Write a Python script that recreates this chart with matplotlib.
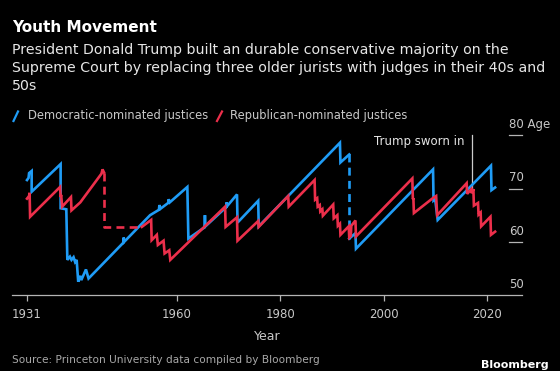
import numpy as np
import matplotlib

matplotlib.use("Agg")
import matplotlib.pyplot as plt
from matplotlib.lines import Line2D
from matplotlib.transforms import blended_transform_factory, offset_copy

BLUE, RED = "#1f9cf6", "#ec2f4b"
BG = "#000000"
GREY = "#b4b4b4"

# average age, Democratic-nominated justices (NaN breaks the dashed gap)
dem_year = [1931.0, 1931.3, 1931.4, 1931.9, 1931.9, 1937.5, 1937.5, 1938.6, 1938.8,
            1939.3, 1939.6, 1940.0, 1940.3, 1940.6, 1940.9, 1941.3, 1941.5, 1942.4, 1942.9,
            1949.6, 1949.7, 1949.8, 1954.8, 1956.5, 1956.6, 1956.8, 1958.3, 1958.4, 1958.6,
            1962.0, 1962.2, 1965.3, 1965.4, 1965.5, 1969.5, 1969.6, 1969.7, 1971.6, 1971.7,
            1975.7, 1975.8, 1991.5, 1991.6, 1993.3, np.nan,
            1993.3, 1994.5, 1994.6, 2009.5, 2009.6, 2009.9, 2010.4, 2020.7, 2020.8, 2021.5]
dem_age = [71.6, 72.0, 72.9, 73.3, 69.4, 74.6, 66.3, 66.1, 56.6,
           57.2, 56.6, 57.1, 56.2, 56.6, 52.5, 53.6, 52.8, 54.8, 53.1,
           59.8, 60.8, 60.0, 65.0, 66.0, 66.9, 66.2, 67.3, 68.0, 67.4,
           70.3, 60.6, 62.7, 65.0, 62.9, 66.5, 67.4, 66.7, 68.9, 63.6,
           67.7, 62.9, 78.6, 74.9, 76.4, np.nan,
           60.6, 61.6, 58.7, 73.6, 67.8, 68.1, 64.1, 74.3, 69.7, 70.2]
dem_gap_year = [1993.3, 1993.3]
dem_gap_age = [76.4, 60.6]

# average age, Republican-nominated justices
rep_year = [1931.0, 1931.4, 1931.5, 1931.6, 1937.4, 1937.5, 1937.6, 1937.8, 1939.5, 1939.6,
            1941.3, 1945.4, 1945.6, 1945.9, np.nan,
            1953.2, 1955.0, 1955.1, 1956.1, 1956.3, 1957.4, 1957.6, 1958.5, 1958.7, 1969.3,
            1969.4, 1971.6, 1971.7, 1975.7, 1975.8, 1981.5, 1981.6, 1986.6, 1986.7, 1987.1,
            1987.2, 1987.6, 1987.7, 1988.1, 1988.2, 1990.2, 1990.3, 1991.0, 1991.1, 1991.5,
            1991.6, 1993.2, 1993.3, 1993.6, 1993.7, 1994.5, 1994.6, 2005.5, 2005.6, 2005.7,
            2005.8, 2009.6, 2010.1, 2010.3, 2016.0, 2016.1, 2016.9, 2017.0, 2017.3, 2017.4,
            2018.2, 2018.3, 2018.7, 2018.8, 2020.6, 2020.7, 2021.5]
rep_age = [68.1, 68.6, 69.2, 64.7, 70.3, 68.4, 68.8, 66.6, 68.4, 65.9,
           67.4, 72.8, 73.6, 73.0, np.nan,
           62.8, 64.1, 60.3, 61.3, 59.4, 60.2, 57.8, 58.4, 56.6, 66.6,
           62.8, 64.6, 60.2, 63.9, 62.8, 68.6, 66.6, 71.6, 67.9, 68.2,
           66.6, 66.9, 65.7, 66.1, 64.9, 67.0, 64.4, 65.0, 63.0, 63.4,
           61.3, 62.9, 60.8, 61.1, 63.0, 64.0, 61.0, 71.9, 68.0, 68.2,
           65.4, 68.3, 68.6, 65.0, 71.0, 69.0, 69.9, 69.1, 69.9, 66.8,
           67.3, 65.1, 65.5, 62.9, 64.7, 61.3, 61.9]
rep_gap_year = [1945.9, 1945.9, 1953.2]
rep_gap_age = [73.0, 62.8, 62.8]

xticks = [1931, 1960, 1980, 2000, 2020]
yticks = [50, 60, 70, 80]
trump_year = 2017.05

W, H = 560, 371
fig = plt.figure(figsize=(W / 100, H / 100), dpi=100, facecolor=BG)
ax = fig.add_axes([12 / W, 1 - 295 / H, (522 - 12) / W, (295 - 130) / H])
ax.set_facecolor(BG)

ax.plot(dem_year, dem_age, color=BLUE, lw=1.9, solid_joinstyle="miter", zorder=2)
ax.plot(dem_gap_year, dem_gap_age, color=BLUE, lw=1.9, ls=(0, (3, 2)), zorder=2)
ax.plot(rep_year, rep_age, color=RED, lw=1.9, solid_joinstyle="miter", zorder=3)
ax.plot(rep_gap_year, rep_gap_age, color=RED, lw=1.9, ls=(0, (3, 2)), zorder=3)

ax.set_xlim(1928.1, 2026.7)
ax.set_ylim(50, 81)
for s in ["top", "right", "left"]:
    ax.spines[s].set_visible(False)
ax.spines["bottom"].set_color(GREY)
ax.spines["bottom"].set_linewidth(0.9)
ax.set_xticks(xticks)
ax.set_xticklabels([str(t) for t in xticks])
ax.tick_params(axis="x", colors=GREY, length=4, width=0.9, labelsize=8.5, pad=5,
               labelcolor="#c8c8c8")
ax.set_yticks([])
ax.set_xlabel("Year", color="#c8c8c8", fontsize=9, labelpad=7)

# right-hand y ticks: short dashes with labels sitting above
tr = blended_transform_factory(ax.transAxes, ax.transData)
for v in yticks:
    if v != 50:
        ax.plot([0.975, 1.0], [v, v], color=GREY, lw=0.9, transform=tr, clip_on=False)
    lab = "80 Age" if v == 80 else str(v)
    ax.text(0.975, v, lab, transform=offset_copy(tr, fig=fig, x=0, y=3, units="points"),
            color="#c8c8c8", fontsize=8.5, ha="left", va="bottom")

# Trump sworn in
ax.plot([trump_year, trump_year], [70.0, 80.0], color="#cccccc", lw=0.9, zorder=1)
ax.text(trump_year - 1.5, 78.9, "Trump sworn in", color="#e6e6e6", fontsize=8.5,
        ha="right", va="center")

# header
fig.text(12 / W, 1 - 28 / H, "Youth Movement", color="white", fontsize=11,
         weight="bold", va="center")
sub = ["President Donald Trump built an durable conservative majority on the",
       "Supreme Court by replacing three older jurists with judges in their 40s and",
       "50s"]
for i, line in enumerate(sub):
    fig.text(12 / W, 1 - (50 + 18 * i) / H, line, color="#e6e6e6", fontsize=10.2,
             va="center")

# legend
fig.add_artist(Line2D([13.5 / W, 18 / W], [1 - 121 / H, 1 - 111.5 / H], color=BLUE, lw=1.6))
fig.text(28 / W, 1 - 116 / H, "Democratic-nominated justices", color="#c8c8c8",
         fontsize=8.3, va="center")
fig.add_artist(Line2D([217 / W, 222 / W], [1 - 121 / H, 1 - 111.5 / H], color=RED, lw=1.6))
fig.text(230 / W, 1 - 116 / H, "Republican-nominated justices", color="#c8c8c8",
         fontsize=8.3, va="center")

# footer
fig.text(12 / W, 1 - 360 / H, "Source: Princeton University data compiled by Bloomberg",
         color="#a8a8a8", fontsize=7.6, va="center")
fig.text(549 / W, 1 - 365 / H, "Bloomberg", color="white", fontsize=8, weight="bold",
         ha="right", va="center")

fig.savefig("out.png", dpi=100, facecolor=BG)
